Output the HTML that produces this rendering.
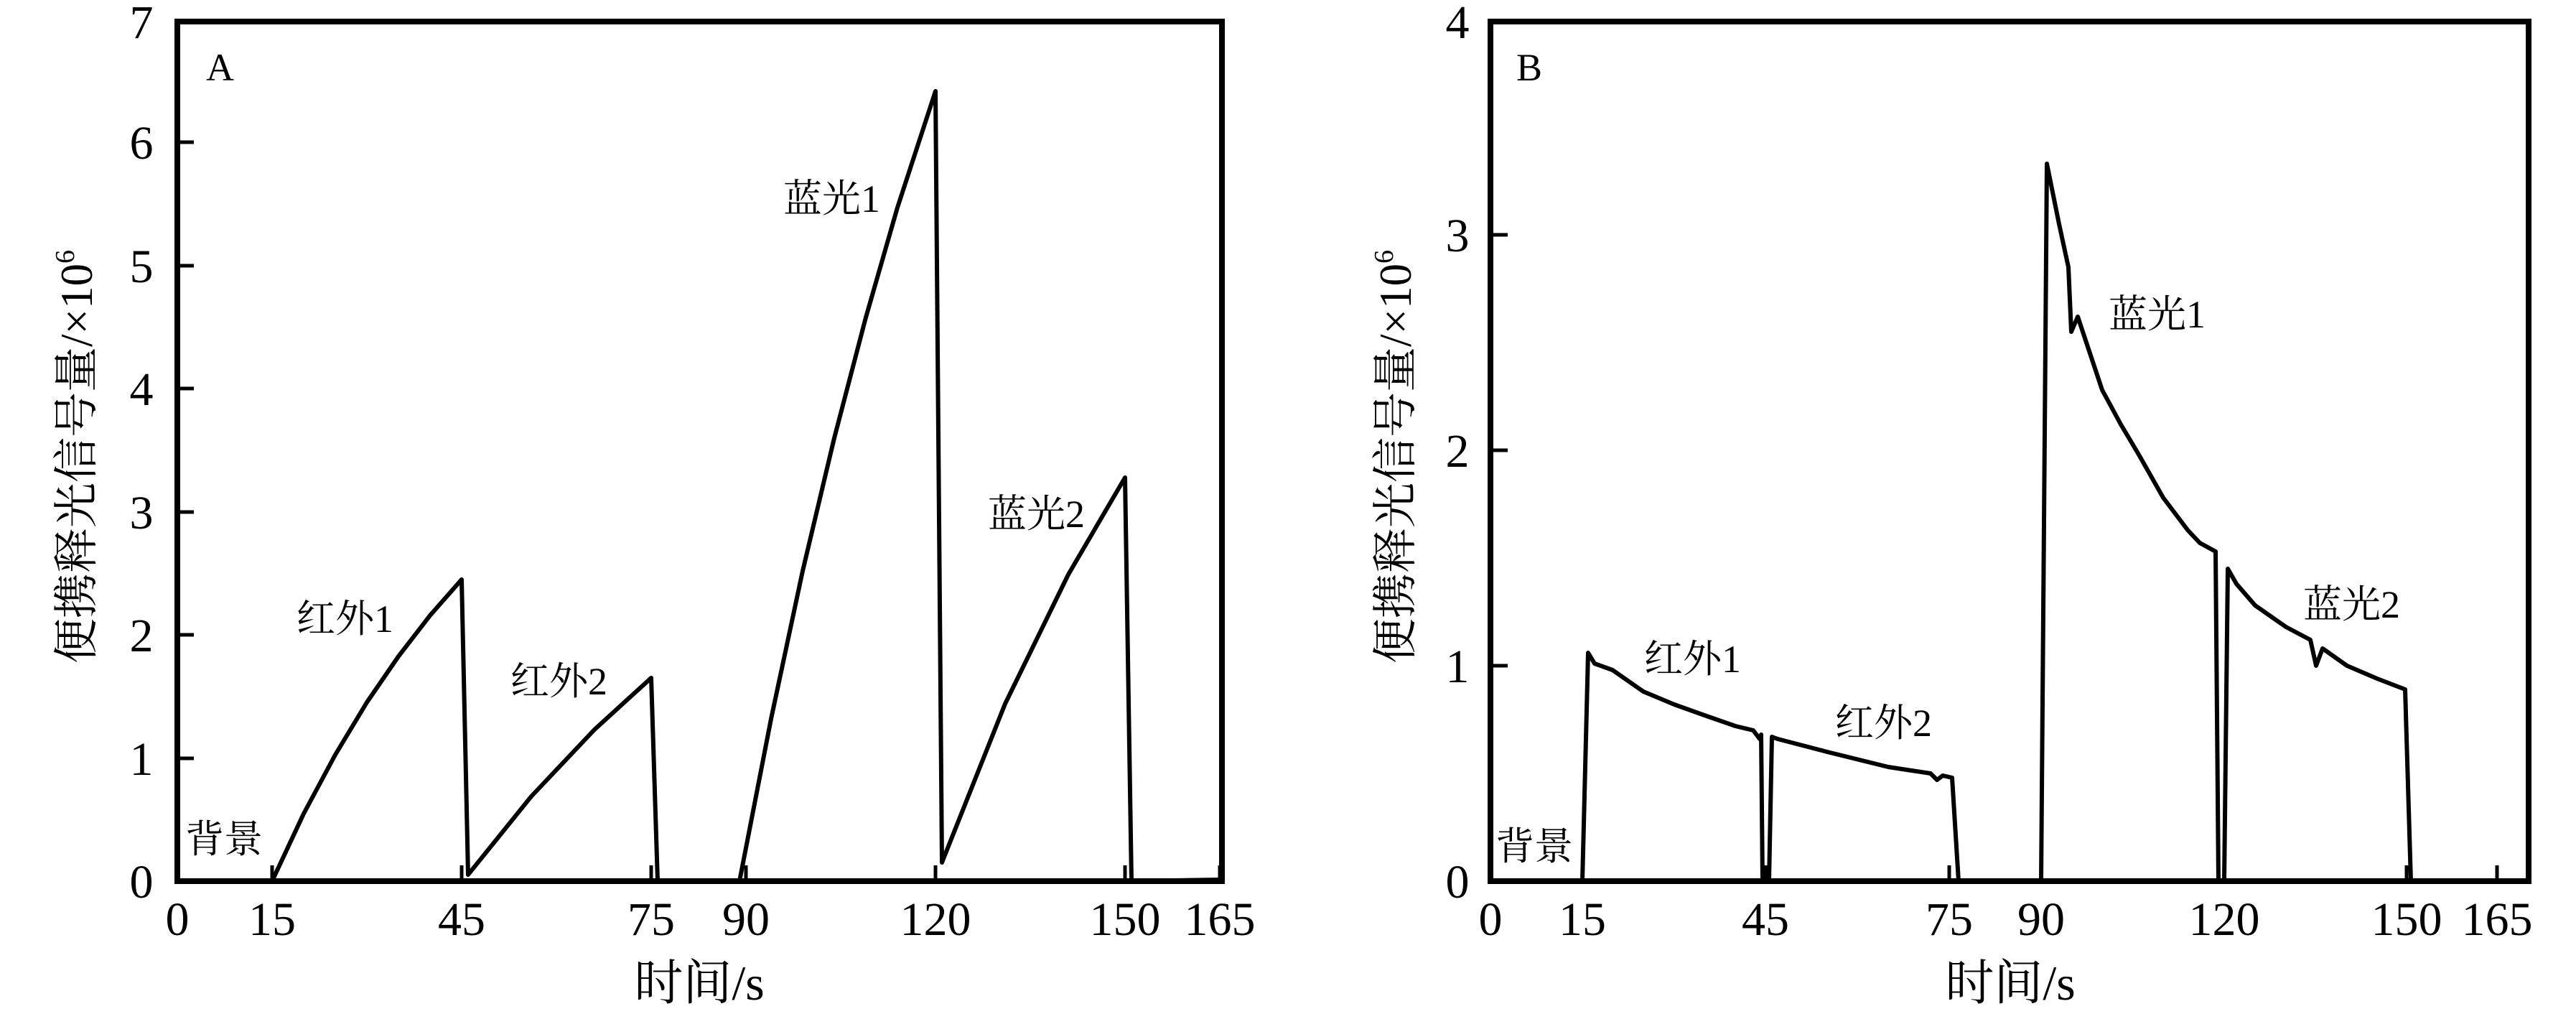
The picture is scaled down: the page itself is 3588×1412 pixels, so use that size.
<!DOCTYPE html>
<html><head><meta charset="utf-8"><style>
html,body{margin:0;padding:0;background:#fff;}
svg text{font-family:"Liberation Serif","Noto Serif CJK SC","Noto Sans CJK SC",serif;fill:#000;}
</style></head><body>
<svg width="3588" height="1407" viewBox="0 0 3588 1407" xmlns="http://www.w3.org/2000/svg">
<g fill="none" stroke="#000" stroke-width="8">
<rect x="247" y="30" width="1455" height="1197"/>
<rect x="2076" y="30" width="1446" height="1197"/>
</g>
<g stroke="#000" stroke-width="5">
<line x1="247" y1="1056" x2="270" y2="1056"/><line x1="247" y1="884" x2="270" y2="884"/>
<line x1="247" y1="713" x2="270" y2="713"/><line x1="247" y1="541" x2="270" y2="541"/>
<line x1="247" y1="370" x2="270" y2="370"/><line x1="247" y1="198" x2="270" y2="198"/>
<line x1="379" y1="1227" x2="379" y2="1205"/><line x1="643" y1="1227" x2="643" y2="1205"/>
<line x1="907" y1="1227" x2="907" y2="1205"/><line x1="1039" y1="1227" x2="1039" y2="1205"/>
<line x1="1303" y1="1227" x2="1303" y2="1205"/><line x1="1567" y1="1227" x2="1567" y2="1205"/>
<line x1="1699" y1="1227" x2="1699" y2="1205"/>
<line x1="2076" y1="927" x2="2100" y2="927"/><line x1="2076" y1="627" x2="2100" y2="627"/>
<line x1="2076" y1="327" x2="2100" y2="327"/>
<line x1="2204" y1="1227" x2="2204" y2="1205"/><line x1="2459" y1="1227" x2="2459" y2="1205"/>
<line x1="2715" y1="1227" x2="2715" y2="1205"/><line x1="2843" y1="1227" x2="2843" y2="1205"/>
<line x1="3098" y1="1227" x2="3098" y2="1205"/><line x1="3352" y1="1227" x2="3352" y2="1205"/>
<line x1="3478" y1="1227" x2="3478" y2="1205"/>
</g>
<g fill="none" stroke="#000" stroke-width="6" stroke-linejoin="round">
<polyline points="247,1227 379,1227 423,1133 467,1051 511,978 555,914 599,857 643,807 652,1218 740,1109 828,1016 907,944 916,1227 1030,1227 1074,1001 1118,795 1162,610 1206,442 1250,289 1303,127 1312,1201 1400,980 1488,800 1567,665 1576,1227 1699,1225"/>
<polyline points="2076,1227 2204,1227 2212,909 2221,924 2246,933 2289,963 2332,981 2374,996 2417,1011 2442,1017 2451,1029 2453,1023 2455,1227 2464,1227 2468,1026 2476,1029 2545,1047 2630,1068 2689,1077 2698,1086 2706,1080 2719,1083 2728,1227 2843,1227 2851,228 2868,312 2881,372 2885,462 2894,441 2911,492 2928,543 2954,591 2979,633 3013,693 3047,738 3064,756 3086,768 3090,1227 3098,1227 3103,792 3115,813 3141,843 3184,873 3218,891 3226,927 3235,903 3269,927 3311,945 3350,960 3358,1227 3482,1227"/>
</g>
<g font-size="66" text-anchor="middle">
<text x="197" y="1250">0</text><text x="197" y="1079">1</text><text x="197" y="907">2</text>
<text x="197" y="736">3</text><text x="197" y="564">4</text><text x="197" y="393">5</text>
<text x="197" y="221">6</text><text x="197" y="53">7</text>
<text x="247" y="1302">0</text><text x="379" y="1302">15</text><text x="643" y="1302">45</text>
<text x="907" y="1302">75</text><text x="1039" y="1302">90</text><text x="1303" y="1302">120</text>
<text x="1567" y="1302">150</text><text x="1699" y="1302">165</text>
<text x="2030" y="1250">0</text><text x="2030" y="950">1</text><text x="2030" y="650">2</text>
<text x="2030" y="350">3</text><text x="2030" y="53">4</text>
<text x="2076" y="1302">0</text><text x="2204" y="1302">15</text><text x="2459" y="1302">45</text>
<text x="2715" y="1302">75</text><text x="2843" y="1302">90</text><text x="3098" y="1302">120</text>
<text x="3352" y="1302">150</text><text x="3478" y="1302">165</text>
<text x="974" y="1392" font-size="68">时间/s</text>
<text x="2800" y="1392" font-size="68">时间/s</text>
</g>
<g font-size="54">
<text x="287" y="112">A</text>
<text x="2112" y="112">B</text>
<text x="258" y="1187">背景</text>
<text x="413" y="880">红外1</text>
<text x="711" y="967">红外2</text>
<text x="1091" y="295">蓝光1</text>
<text x="1376" y="734">蓝光2</text>
<text x="2083" y="1197">背景</text>
<text x="2290" y="936">红外1</text>
<text x="2556" y="1025">红外2</text>
<text x="2937" y="456">蓝光1</text>
<text x="3208" y="860">蓝光2</text>
</g>
<g font-size="63" text-anchor="middle">
<text transform="translate(128,636) rotate(-90)">便携释光信号量/×10<tspan font-size="38" dy="-25">6</tspan></text>
<text transform="translate(1965,636) rotate(-90)">便携释光信号量/×10<tspan font-size="38" dy="-25">6</tspan></text>
</g>
</svg>
</body></html>
